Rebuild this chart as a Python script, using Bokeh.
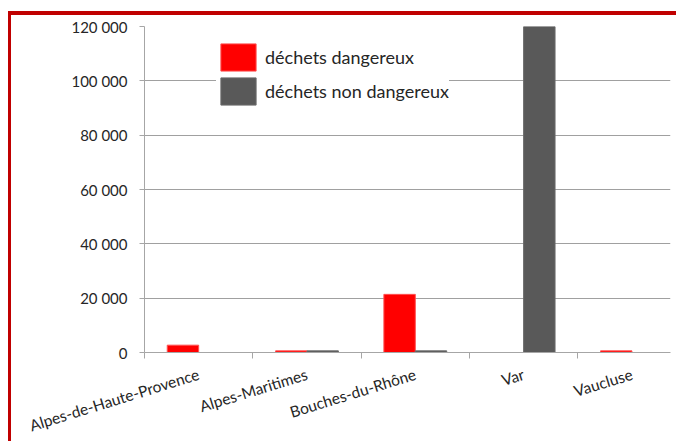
from bokeh.plotting import figure
from bokeh.models import FixedTicker, Legend, LegendItem, ColumnDataSource, Range1d
from bokeh.embed import file_html
from bokeh.resources import INLINE

categories = ["Alpes-de-Haute-Provence", "Alpes-Maritimes", "Bouches-du-Rhône", "Var", "Vaucluse"]
dangereux = [2700, 600, 21400, 0, 600]
non_dangereux = [0, 600, 600, 120000, 0]
y_ticks = [0, 20000, 40000, 60000, 80000, 100000, 120000]
y_tick_labels = ["0", "20 000", "40 000", "60 000", "80 000", "100 000", "120 000"]

RED = "#FF0000"
DARK = "#595959"
FONT = "Lato"
BAR_W = 0.29

n = len(categories)
centers = [i + 0.5 for i in range(n)]
src = ColumnDataSource(dict(
    xd=[c - BAR_W / 2 for c in centers],
    xn=[c + BAR_W / 2 for c in centers],
    d=dangereux, nd=non_dangereux,
))

p = figure(width=668, height=430, output_backend="svg", toolbar_location=None,
           x_range=Range1d(0, 4.856), y_range=Range1d(0, 120000),
           min_border_left=133, min_border_right=9, min_border_top=11, min_border_bottom=88)
p.outline_line_color = None
p.background_fill_color = "white"
p.border_fill_color = "white"

rd = p.vbar(x="xd", top="d", width=BAR_W, source=src, fill_color=RED, line_color="#FF5050", line_width=1)
rn = p.vbar(x="xn", top="nd", width=BAR_W, source=src, fill_color=DARK, line_color="#6a6a6a", line_width=1)

# x axis
p.xaxis.ticker = FixedTicker(ticks=centers, minor_ticks=list(range(n + 1)))
p.xaxis.major_label_overrides = {c: lab for c, lab in zip(centers, categories)}
p.xaxis.major_tick_out = 0
p.xaxis.major_tick_in = 0
p.xaxis.minor_tick_out = 6
p.xaxis.minor_tick_in = 0
p.xaxis.minor_tick_line_color = "#A6A6A6"
p.xaxis.axis_line_color = "#A6A6A6"
p.xaxis.major_label_orientation = 0.30
p.xaxis.major_label_standoff = 15
p.xaxis.major_label_text_font = FONT
p.xaxis.major_label_text_font_size = "15.5px"
p.xaxis.major_label_text_color = "#262626"

# y axis
p.yaxis.ticker = FixedTicker(ticks=y_ticks, minor_ticks=[])
p.yaxis.major_label_overrides = {t: lab for t, lab in zip(y_ticks, y_tick_labels)}
p.yaxis.major_tick_out = 5
p.yaxis.major_tick_in = 0
p.yaxis.major_tick_line_color = "#A6A6A6"
p.yaxis.axis_line_color = "#A6A6A6"
p.yaxis.major_label_standoff = 12
p.yaxis.major_label_text_font = FONT
p.yaxis.major_label_text_font_size = "15px"
p.yaxis.major_label_text_color = "#262626"

p.xgrid.grid_line_color = None
p.ygrid.ticker = FixedTicker(ticks=y_ticks)
p.ygrid.grid_line_color = "#A0A0A0"
p.ygrid.grid_line_width = 1

legend = Legend(items=[LegendItem(label="déchets dangereux", renderers=[rd]),
                       LegendItem(label="déchets non dangereux", renderers=[rn])],
                location=(72, 244))
legend.glyph_width = 44
legend.glyph_height = 34
legend.spacing = -7
legend.padding = 3
legend.margin = 0
legend.label_standoff = 5
legend.label_text_font = FONT
legend.label_text_font_size = "18px"
legend.label_text_color = "#262626"
legend.border_line_color = None
legend.background_fill_color = "white"
legend.background_fill_alpha = 1
p.add_layout(legend)

p.styles = {"border-top": "4px solid #C00000", "border-left": "3px solid #C00000",
            "margin-top": "11px", "margin-left": "8px"}

open("out.html", "w").write(file_html(p, INLINE))
